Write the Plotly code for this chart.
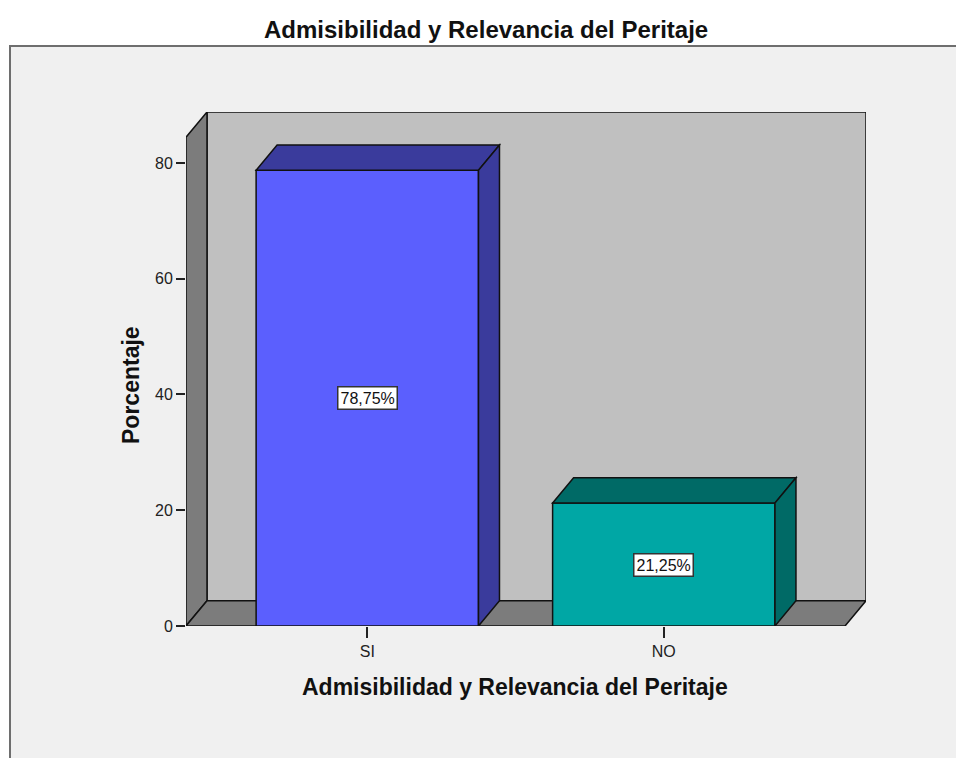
import plotly.graph_objects as go

# ---- data ----
categories = ["SI", "NO"]
values = [78.75, 21.25]
value_labels = ["78,75%", "21,25%"]
y_ticks = [0, 20, 40, 60, 80]
chart_title = "Admisibilidad y Relevancia del Peritaje"
x_title = "Admisibilidad y Relevancia del Peritaje"
y_title = "Porcentaje"

# ---- styles ----
front_colors = ["#5b5ffe", "#00a7a5"]
dark_colors = ["#3a3b9c", "#006a66"]
WALL = "#c0c0c0"
SIDE = "#7c7c7c"
EDGE = "#111111"
FONT = "Liberation Sans, Arial, sans-serif"

W, H = 956, 758
L, R, T, B = 186, 90, 112, 132
BAR_W = 0.75
X0, X1 = -0.6115, 1.682
Y0, Y1 = 0, 88.8
DX = 0.0708   # depth offset, category units
DY = 4.35     # depth offset, value units

pw = W - L - R
ph = H - T - B


def px_x(px):
    return (px - L) / pw


def px_y(py):
    return (H - B - py) / ph


positions = list(range(len(categories)))

fig = go.Figure()
fig.add_trace(go.Bar(
    x=positions, y=values, width=BAR_W,
    marker=dict(color=front_colors, line=dict(color=EDGE, width=1.5)),
    hoverinfo="skip", showlegend=False,
))

shapes = []
# outer frame
shapes.append(dict(type="rect", xref="paper", yref="paper",
                   x0=px_x(10), x1=px_x(975), y0=px_y(775), y1=px_y(46),
                   fillcolor="#f0f0f0", line=dict(color="#6e6e6e", width=2), layer="below"))
# back wall
shapes.append(dict(type="rect", xref="x", yref="y",
                   x0=X0 + DX, x1=X1, y0=DY, y1=Y1,
                   fillcolor=WALL, line=dict(color=EDGE, width=1.5), layer="below"))
# left wall
shapes.append(dict(type="path", xref="x", yref="y",
                   path=f"M {X0},{0} L {X0},{Y1 - DY} L {X0 + DX},{Y1} L {X0 + DX},{DY} Z",
                   fillcolor=SIDE, line=dict(color=EDGE, width=1.5), layer="below"))
# floor
shapes.append(dict(type="path", xref="x", yref="y",
                   path=f"M {X0},{0} L {X1 - DX},{0} L {X1},{DY} L {X0 + DX},{DY} Z",
                   fillcolor=SIDE, line=dict(color=EDGE, width=1.5), layer="below"))

for p, v, dc in zip(positions, values, dark_colors):
    xl, xr = p - BAR_W / 2, p + BAR_W / 2
    # top face
    shapes.append(dict(type="path", xref="x", yref="y",
                       path=f"M {xl},{v} L {xr},{v} L {xr + DX},{v + DY} L {xl + DX},{v + DY} Z",
                       fillcolor=dc, line=dict(color=EDGE, width=1.5), layer="above"))
    # side face
    shapes.append(dict(type="path", xref="x", yref="y",
                       path=f"M {xr},{0} L {xr},{v} L {xr + DX},{v + DY} L {xr + DX},{DY} Z",
                       fillcolor=dc, line=dict(color=EDGE, width=1.5), layer="above"))

annotations = []
for p, v, t in zip(positions, values, value_labels):
    annotations.append(dict(x=p, y=v / 2, xref="x", yref="y", text=t, showarrow=False,
                            font=dict(family=FONT, size=16, color="#111111"),
                            bgcolor="white", bordercolor="#333333", borderwidth=1.5, borderpad=2))

annotations.append(dict(xref="paper", yref="paper", x=px_x(486), y=px_y(30),
                        text=f"<b>{chart_title}</b>", showarrow=False,
                        xanchor="center", yanchor="middle",
                        font=dict(family=FONT, size=24, color="#111111")))
annotations.append(dict(xref="paper", yref="paper", x=px_x(515), y=px_y(687),
                        text=f"<b>{x_title}</b>", showarrow=False,
                        xanchor="center", yanchor="middle",
                        font=dict(family=FONT, size=23, color="#111111")))
annotations.append(dict(xref="paper", yref="paper", x=px_x(131), y=px_y(385),
                        text=f"<b>{y_title}</b>", showarrow=False, textangle=-90,
                        xanchor="center", yanchor="middle",
                        font=dict(family=FONT, size=23, color="#111111")))

fig.update_layout(
    width=W, height=H,
    margin=dict(l=L, r=R, t=T, b=B, pad=0),
    paper_bgcolor="white",
    plot_bgcolor="rgba(0,0,0,0)",
    shapes=shapes,
    annotations=annotations,
    showlegend=False,
    xaxis=dict(range=[X0, X1], tickvals=positions, ticktext=categories,
               showgrid=False, zeroline=False, showline=False,
               ticks="outside", ticklen=11, tickwidth=1.5, tickcolor="#222222",
               tickfont=dict(family=FONT, size=16, color="#222222"), fixedrange=True),
    yaxis=dict(range=[Y0, Y1], tickvals=y_ticks, ticktext=[str(v) for v in y_ticks],
               showgrid=False, zeroline=False, showline=False,
               ticks="outside", ticklen=9, tickwidth=1.5, tickcolor="#222222",
               tickfont=dict(family=FONT, size=16, color="#222222"), fixedrange=True),
)

fig.write_html(
    "out.html",
    config={"displayModeBar": False},
    post_script="document.body.style.margin='0';document.body.style.overflow='hidden';",
)
